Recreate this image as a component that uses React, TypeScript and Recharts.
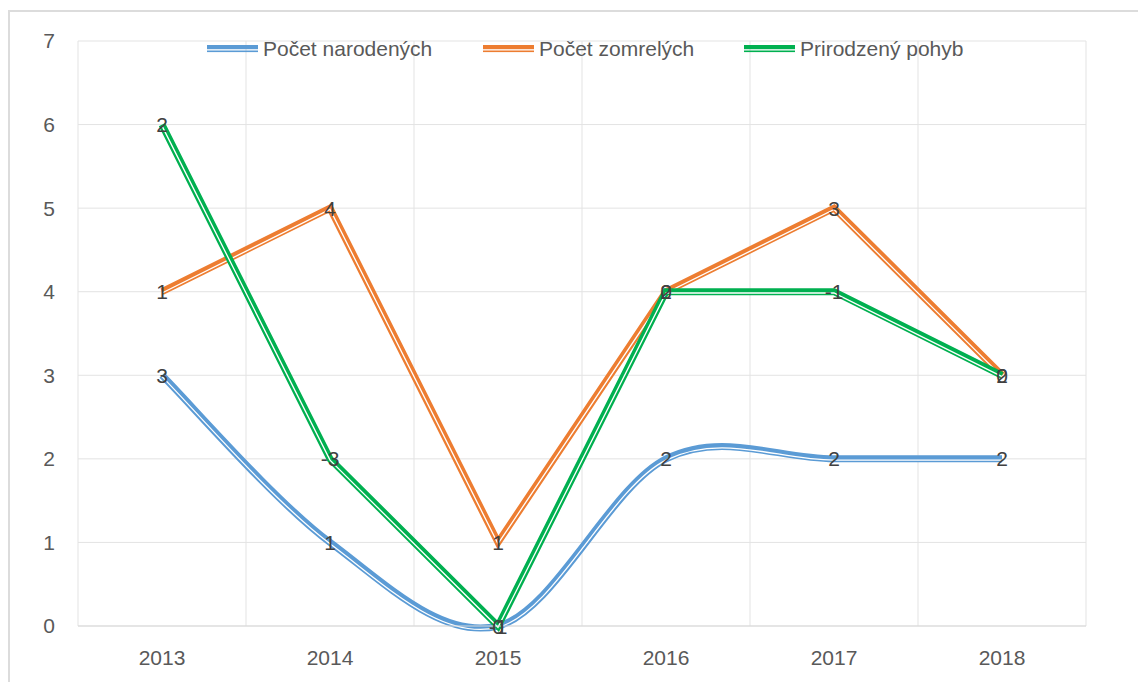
import React from 'react';
import { LineChart, Line, XAxis, YAxis, CartesianGrid, LabelList } from 'recharts';

const years = ['2013', '2014', '2015', '2016', '2017', '2018'];
const births = [3, 1, 0, 2, 2, 2];
const deaths = [4, 5, 1, 4, 5, 3];
const natural = [6, 2, 0, 4, 4, 3];
const birthsLabels = ['3', '1', '0', '2', '2', '2'];
const deathsLabels = ['1', '4', '1', '0', '3', '0'];
const naturalLabels = ['2', '-3', '-1', '2', '-1', '2'];
const yTicks = [0, 1, 2, 3, 4, 5, 6, 7];

const seriesNames = ['Počet narodených', 'Počet zomrelých', 'Prirodzený pohyb'];
const BLUE = '#5b9bd5';
const ORANGE = '#ed7d31';
const GREEN = '#00b050';
const FONT = '"Liberation Sans", Arial, sans-serif';

const data = years.map((y, i) => ({
  year: y,
  births: births[i],
  deaths: deaths[i],
  natural: natural[i],
  birthsLbl: birthsLabels[i],
  deathsLbl: deathsLabels[i],
  naturalLbl: naturalLabels[i],
}));

// Excel-like smoothing (Catmull-Rom style bezier, 1/6 tangent)
const excelSmooth: any = (context: any) => {
  let pts: number[][] = [];
  return {
    areaStart() {},
    areaEnd() {},
    lineStart() {
      pts = [];
    },
    point(x: number, y: number) {
      pts.push([+x, +y]);
    },
    lineEnd() {
      if (!pts.length) return;
      context.moveTo(pts[0][0], pts[0][1]);
      for (let i = 0; i < pts.length - 1; i++) {
        const p0 = pts[i - 1] || pts[i];
        const p1 = pts[i];
        const p2 = pts[i + 1];
        const p3 = pts[i + 2] || pts[i + 1];
        context.bezierCurveTo(
          p1[0] + (p2[0] - p0[0]) / 6,
          p1[1] + (p2[1] - p0[1]) / 6,
          p2[0] - (p3[0] - p1[0]) / 6,
          p2[1] - (p3[1] - p1[1]) / 6,
          p2[0],
          p2[1]
        );
      }
    },
  };
};

const renderLabel = (props: any) => {
  const { x, y, value } = props;
  if (x == null || y == null) return null;
  return (
    <text
      x={x}
      y={y}
      dy="0.36em"
      textAnchor="middle"
      fill="#404040"
      fontSize={21}
      fontFamily={FONT}
    >
      {value}
    </text>
  );
};

const LegendIcon = ({ color }: { color: string }) => (
  <svg width={51} height={8} style={{ display: 'block' }}>
    <rect x={0} y={0} width={51} height={4.2} fill={color} />
    <rect x={0} y={5.5} width={51} height={1.6} fill={color} />
  </svg>
);

const legendItems = [
  { name: seriesNames[0], color: BLUE, left: 199 },
  { name: seriesNames[1], color: ORANGE, left: 475 },
  { name: seriesNames[2], color: GREEN, left: 736 },
];

export default function App() {
  return (
    <div
      style={{
        position: 'relative',
        width: 1138,
        height: 674,
        overflow: 'hidden',
        background: '#ffffff',
        fontFamily: FONT,
      }}
    >
      <style>{`.gapline path.recharts-curve { transform: translateY(1.3px); }`}</style>
      <div
        style={{
          position: 'absolute',
          left: 0,
          top: 2,
          width: 1138,
          height: 680,
          borderLeft: '2px solid #dcdcdc',
          borderTop: '2px solid #dcdcdc',
          boxSizing: 'border-box',
        }}
      />
      <div style={{ position: 'absolute', left: 0, top: 0 }}>
        <LineChart
          width={1138}
          height={674}
          data={data}
          margin={{ top: 33, right: 60, bottom: 0, left: 0 }}
        >
          <CartesianGrid
            stroke="#e3e3e3"
            strokeWidth={1}
            verticalCoordinatesGenerator={({ offset }: any) =>
              Array.from({ length: years.length + 1 }, (_, i) => offset.left + (i * offset.width) / years.length)
            }
          />
          <XAxis
            dataKey="year"
            height={56}
            padding={{ left: 84, right: 84 }}
            tickSize={0}
            tickMargin={24}
            axisLine={{ stroke: '#d9d9d9' }}
            tick={{ fill: '#595959', fontSize: 21, fontFamily: FONT }}
          />
          <YAxis
            domain={[0, 7]}
            ticks={yTicks}
            width={70}
            tickSize={0}
            tickMargin={23}
            axisLine={false}
            tickLine={false}
            tick={{ fill: '#595959', fontSize: 21, fontFamily: FONT }}
          />
          <Line type={excelSmooth} dataKey="births" stroke={BLUE} strokeWidth={7} dot={false} activeDot={false} isAnimationActive={false} />
          <Line type={excelSmooth} dataKey="births" className="gapline" stroke="#ffffff" strokeWidth={1.3} dot={false} activeDot={false} isAnimationActive={false} />
          <Line type="linear" dataKey="deaths" stroke={ORANGE} strokeWidth={7} dot={false} activeDot={false} isAnimationActive={false} />
          <Line type="linear" dataKey="deaths" className="gapline" stroke="#ffffff" strokeWidth={1.3} dot={false} activeDot={false} isAnimationActive={false} />
          <Line type="linear" dataKey="natural" stroke={GREEN} strokeWidth={7} dot={false} activeDot={false} isAnimationActive={false} />
          <Line type="linear" dataKey="natural" className="gapline" stroke="#ffffff" strokeWidth={1.3} dot={false} activeDot={false} isAnimationActive={false} />
          <Line type="linear" dataKey="births" stroke="none" dot={false} activeDot={false} isAnimationActive={false}>
            <LabelList dataKey="birthsLbl" content={renderLabel} />
          </Line>
          <Line type="linear" dataKey="deaths" stroke="none" dot={false} activeDot={false} isAnimationActive={false}>
            <LabelList dataKey="deathsLbl" content={renderLabel} />
          </Line>
          <Line type="linear" dataKey="natural" stroke="none" dot={false} activeDot={false} isAnimationActive={false}>
            <LabelList dataKey="naturalLbl" content={renderLabel} />
          </Line>
        </LineChart>
      </div>
      {legendItems.map((it) => (
        <div
          key={it.name}
          style={{
            position: 'absolute',
            left: it.left,
            top: 27,
            display: 'flex',
            alignItems: 'center',
            gap: 5,
            color: '#595959',
            fontSize: 21,
            lineHeight: '28px',
            whiteSpace: 'nowrap',
          }}
        >
          <LegendIcon color={it.color} />
          <span>{it.name}</span>
        </div>
      ))}
    </div>
  );
}
